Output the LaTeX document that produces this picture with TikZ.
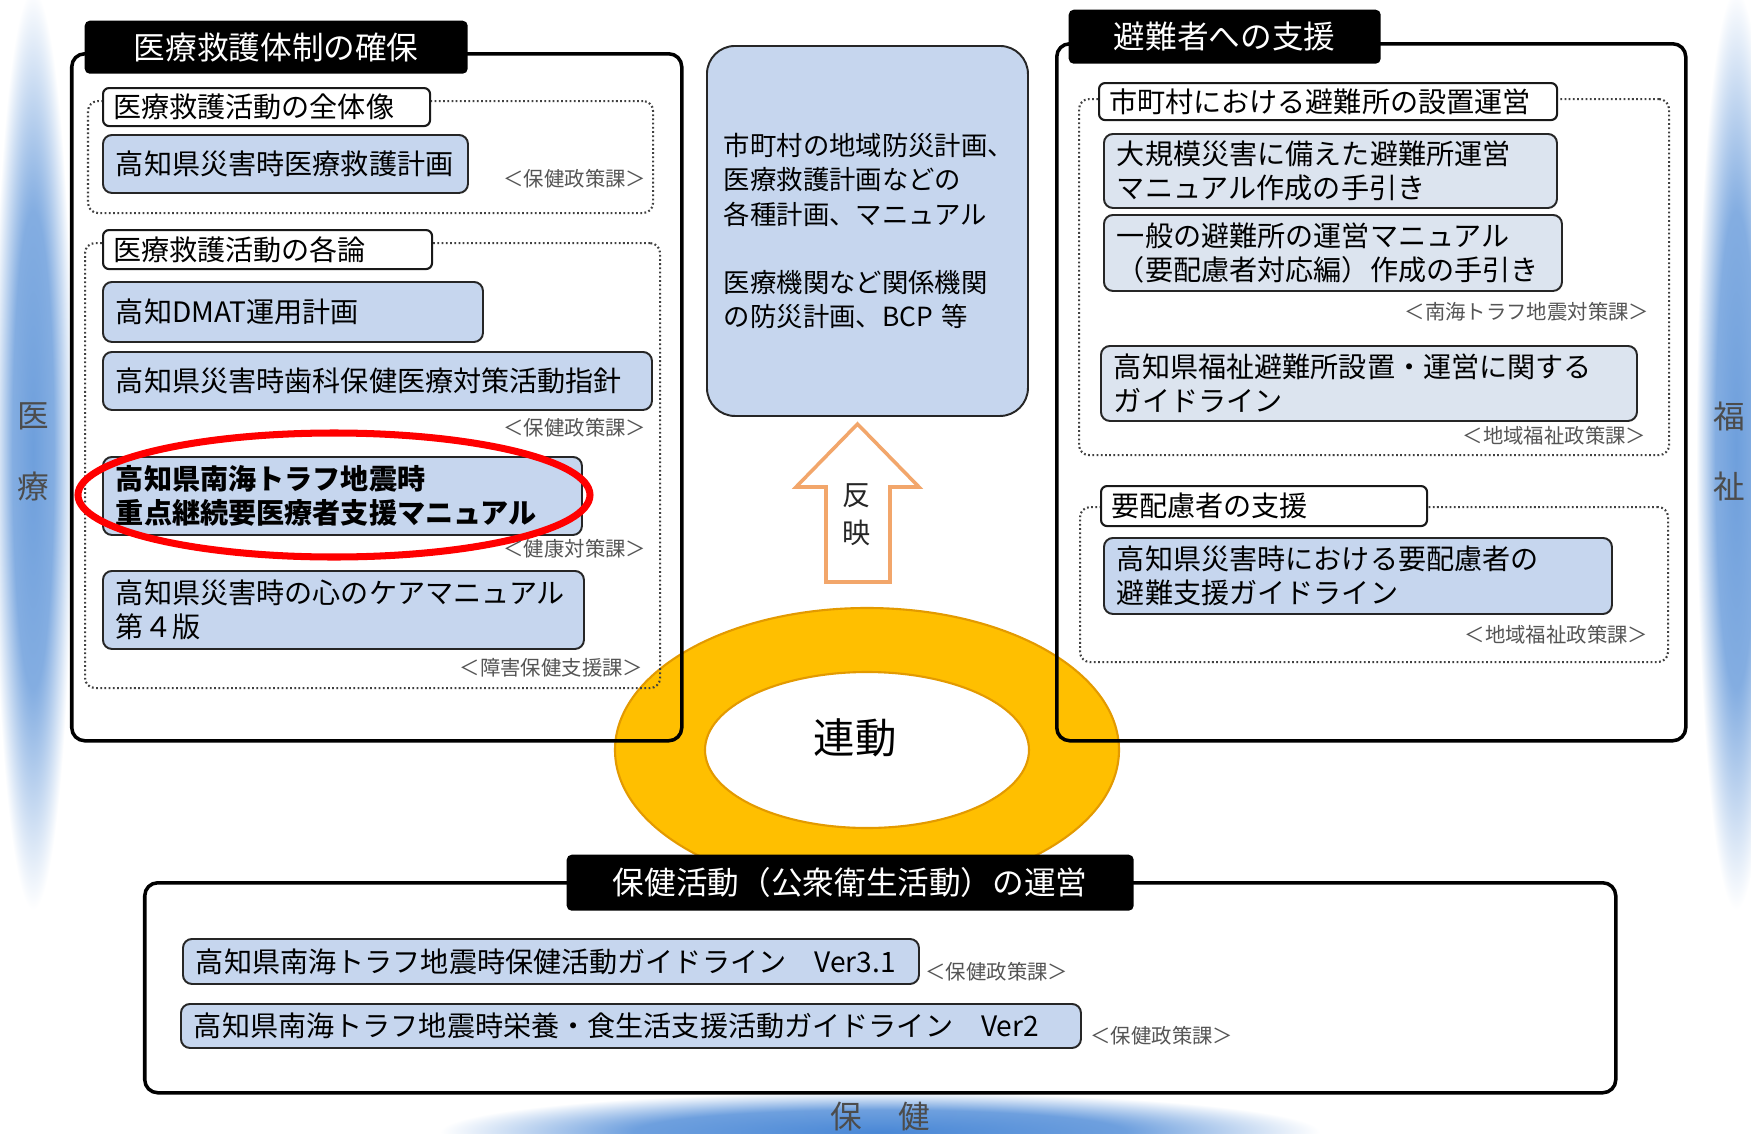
\documentclass[tikz,border=0pt]{standalone}
\usepackage{fontspec}
\setmainfont{Noto Sans CJK JP}
\usetikzlibrary{shapes.geometric}
\definecolor{boxblue}{HTML}{C6D6EE}
\definecolor{boxpale}{HTML}{DCE4EF}
\definecolor{ringor}{HTML}{FFBF00}
\definecolor{ringedge}{HTML}{E39A00}
\definecolor{arrowor}{HTML}{F2A66B}
\definecolor{barblue}{HTML}{6E9FDC}
\definecolor{barbluedeep}{HTML}{4A88D6}
\definecolor{smallgray}{HTML}{555555}
\pgfdeclareradialshading{sidebar}{\pgfpoint{0bp}{0bp}}{color(0bp)=(barblue); color(13bp)=(barblue!85!white); color(25bp)=(white); color(50bp)=(white)}
\pgfdeclareradialshading{bottombar}{\pgfpoint{0bp}{0bp}}{color(0bp)=(barbluedeep); color(14bp)=(barbluedeep!80!white); color(25bp)=(white); color(50bp)=(white)}
\newcommand\tbox[8]{%
  \pgfmathsetmacro\bw{(#6)-(#4)}%
  \pgfmathsetmacro\bh{(#5)-(#7)}%
  \pgfmathsetmacro\tw{(#6)-(#4)-2*(#2)}%
  \node[#1, inner xsep=#2cm, minimum width=\bw cm, minimum height=\bh cm, text width=\tw cm, anchor=north west] (#3) at (#4,#5) {#8};}
\begin{document}
\begin{tikzpicture}[
  blueb/.style={draw=black!85, fill=boxblue, line width=0.55pt, rounded corners=0.09cm, inner ysep=0pt, align=left, font=\fontsize{8}{9.8}\selectfont},
  paleb/.style={blueb, fill=boxpale},
  labelb/.style={draw=black!90, fill=white, line width=0.6pt, rounded corners=0.06cm, inner ysep=0pt, align=left, font=\fontsize{8}{9.8}\selectfont},
  tabb/.style={fill=black, rounded corners=0.05cm, text=white, inner ysep=0pt, align=center, font=\fontsize{9}{11}\selectfont},
  outerb/.style={draw=black, line width=1pt, rounded corners=0.13cm, inner ysep=0pt},
  dotb/.style={draw=black!75, line width=0.6pt, dash pattern=on 0.5pt off 0.7pt, rounded corners=0.1cm, inner ysep=0pt},
  dept/.style={text=smallgray, font=\fontsize{5.8}{7}\selectfont, inner sep=0pt},
  sidelbl/.style={text=black!70, font=\fontsize{9}{11}\selectfont, inner sep=0pt},
  arrowtxt/.style={text=black!85, font=\fontsize{8}{9.8}\selectfont, inner sep=0pt},
]
\useasboundingbox[fill=white] (0,0) rectangle (17.51,-11.34);

% side gradient bars
\shade[shading=sidebar] (0.33,-4.50) ellipse [x radius=0.40, y radius=4.60];
\shade[shading=sidebar] (17.36,-4.50) ellipse [x radius=0.40, y radius=4.60];
\shade[shading=bottombar] (8.80,-11.32) ellipse [x radius=4.40, y radius=0.40];
\node[sidelbl] (iryo1) at (0.33,-4.16) {医};
\node[sidelbl] (iryo2) at (0.33,-4.86) {療};
\node[sidelbl] (fuku1) at (17.29,-4.16) {福};
\node[sidelbl] (fuku2) at (17.29,-4.86) {祉};

% ring
\node[ellipse, draw=ringedge, fill=ringor, line width=0.6pt, inner sep=0pt, minimum width=5.04cm, minimum height=2.84cm] (ringout) at (8.67,-7.50) {};
\node[ellipse, draw=ringedge, fill=white, line width=0.6pt, inner sep=0pt, minimum width=3.24cm, minimum height=1.56cm] (ringin) at (8.67,-7.50) {};
\node[inner sep=0pt, font=\fontsize{11.8}{14}\selectfont] (rendo) at (8.55,-7.38) {連動};

% left group
\tbox{outerb}{0}{leftouter}{0.70}{-0.52}{6.80}{-7.39}{}
\tbox{tabb}{0}{lefttab}{0.84}{-0.20}{4.67}{-0.73}{医療救護体制の確保}
\tbox{dotb}{0}{ldot1}{0.87}{-1.00}{6.52}{-2.12}{}
\tbox{labelb}{0.10}{llab1}{1.02}{-0.87}{4.29}{-1.25}{医療救護活動の全体像}
\tbox{blueb}{0.13}{lb1}{1.02}{-1.34}{4.67}{-1.92}{高知県災害時医療救護計画}
\node[dept, anchor=east] (ld1) at (6.47,-1.79) {＜保健政策課＞};
\tbox{dotb}{0}{ldot2}{0.84}{-2.42}{6.59}{-6.87}{}
\tbox{labelb}{0.10}{llab2}{1.02}{-2.29}{4.31}{-2.68}{医療救護活動の各論}
\tbox{blueb}{0.13}{lb2}{1.02}{-2.81}{4.82}{-3.41}{高知DMAT運用計画}
\tbox{blueb}{0.13}{lb3}{1.02}{-3.51}{6.51}{-4.09}{高知県災害時歯科保健医療対策活動指針}
\node[dept, anchor=east] (ld2) at (6.47,-4.28) {＜保健政策課＞};
\tbox{blueb}{0.13}{lb4}{1.02}{-4.56}{5.81}{-5.34}{\bfseries 高知県南海トラフ地震時\\\bfseries 重点継続要医療者支援マニュアル}
\node[ellipse, draw=red, line width=2pt, inner sep=0pt, minimum width=5.12cm, minimum height=1.24cm] (redmark) at (3.34,-4.95) {};
\node[dept, anchor=east] (ld3) at (6.47,-5.49) {＜健康対策課＞};
\tbox{blueb}{0.13}{lb5}{1.02}{-5.70}{5.83}{-6.48}{高知県災害時の心のケアマニュアル\\第４版}
\node[dept, anchor=east] (ld4) at (6.44,-6.68) {＜障害保健支援課＞};

% center box and arrow
\node[draw=black!85, fill=boxblue, line width=0.55pt, rounded corners=0.28cm, anchor=north west, minimum width=3.21cm, minimum height=3.70cm, text width=2.87cm, inner xsep=0.17cm, inner ysep=0pt, align=left, font=\fontsize{7.5}{9.7}\selectfont] (plans) at (7.06,-0.45) {市町村の地域防災計画、\\医療救護計画などの\\各種計画、マニュアル\\[0.34cm]医療機関など関係機関\\の防災計画、BCP 等};
\coordinate (arrowtip) at (8.575,-4.24);
\draw[arrowor, line width=1pt, fill=white, line join=miter] (8.26,-5.82) -- (8.26,-4.87) -- (7.96,-4.87) -- (arrowtip) -- (9.19,-4.87) -- (8.90,-4.87) -- (8.90,-5.82) -- cycle;
\node[arrowtxt] (han) at (8.57,-4.96) {反};
\node[arrowtxt] (ei) at (8.57,-5.33) {映};

% right group
\tbox{outerb}{0}{rightouter}{10.55}{-0.42}{16.84}{-7.39}{}
\tbox{tabb}{0}{righttab}{10.68}{-0.09}{13.80}{-0.63}{避難者への支援}
\tbox{dotb}{0}{rdot1}{10.78}{-0.98}{16.68}{-4.54}{}
\tbox{labelb}{0.10}{rlab1}{10.98}{-0.82}{15.56}{-1.19}{市町村における避難所の設置運営}
\tbox{paleb}{0.13}{rb1}{11.03}{-1.33}{15.56}{-2.07}{大規模災害に備えた避難所運営\\マニュアル作成の手引き}
\tbox{paleb}{0.13}{rb2}{11.03}{-2.14}{15.61}{-2.90}{一般の避難所の運営マニュアル\\（要配慮者対応編）作成の手引き}
\node[dept, anchor=east] (rd1) at (16.50,-3.12) {＜南海トラフ地震対策課＞};
\tbox{paleb}{0.13}{rb3}{11.00}{-3.45}{16.36}{-4.20}{高知県福祉避難所設置・運営に関する\\ガイドライン}
\node[dept, anchor=east] (rd2) at (16.47,-4.36) {＜地域福祉政策課＞};
\tbox{dotb}{0}{rdot2}{10.79}{-5.06}{16.67}{-6.61}{}
\tbox{labelb}{0.10}{rlab2}{11.00}{-4.85}{14.26}{-5.25}{要配慮者の支援}
\tbox{blueb}{0.13}{rb4}{11.03}{-5.37}{16.11}{-6.13}{高知県災害時における要配慮者の\\避難支援ガイドライン}
\node[dept, anchor=east] (rd3) at (16.49,-6.35) {＜地域福祉政策課＞};

% bottom group
\tbox{outerb, fill=white}{0}{bottomouter}{1.43}{-8.81}{16.14}{-10.91}{}
\tbox{tabb}{0}{bottomtab}{5.66}{-8.54}{11.33}{-9.10}{保健活動（公衆衛生活動）の運営}
\tbox{blueb}{0.13}{bb1}{1.82}{-9.38}{9.18}{-9.83}{高知県南海トラフ地震時保健活動ガイドライン　Ver3.1}
\node[dept, anchor=east] (bd1) at (10.69,-9.72) {＜保健政策課＞};
\tbox{blueb}{0.13}{bb2}{1.80}{-10.03}{10.80}{-10.47}{高知県南海トラフ地震時栄養・食生活支援活動ガイドライン　Ver2}
\node[dept, anchor=east] (bd2) at (12.34,-10.36) {＜保健政策課＞};

\node[sidelbl] (hoken) at (8.80,-11.17) {保\hspace{0.36cm}健};
\end{tikzpicture}
\end{document}
